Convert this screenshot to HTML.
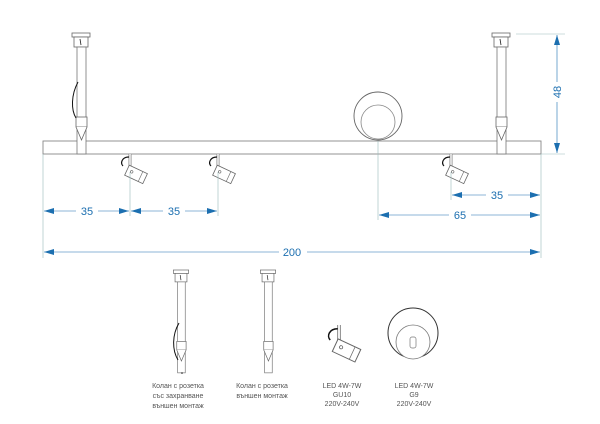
<!DOCTYPE html>
<html><head><meta charset="utf-8"><style>
html,body{margin:0;padding:0;background:#fff;width:600px;height:424px;overflow:hidden}
svg{display:block}
.d{fill:#1c6fb0;font-family:"Liberation Sans",sans-serif;font-size:11px;text-anchor:middle}
.t{fill:#555;font-family:"Liberation Sans","DejaVu Sans",sans-serif;font-size:7px;text-anchor:middle}
</style></head><body>
<svg width="600" height="424" viewBox="0 0 600 424">
<defs>
<marker id="a" viewBox="0 0 10 6" refX="10" refY="3" markerWidth="10" markerHeight="6" orient="auto-start-reverse" markerUnits="userSpaceOnUse"><path d="M0,0L10,3L0,6z" fill="#1c6fb0"/></marker>
<g id="col">
<rect x="-9" y="0" width="18" height="4" fill="#fff" stroke="#666" stroke-width=".8"/>
<rect x="-7" y="4" width="14" height="10" fill="#fff" stroke="#666" stroke-width=".8"/>
<path d="M-1,6 l1,6" stroke="#222" stroke-width=".8"/>
<rect x="-4" y="14" width="9" height="107" fill="#fff" stroke="#777" stroke-width=".8"/>
<rect x="-5" y="84" width="11" height="10" fill="#fff" stroke="#666" stroke-width=".8"/>
<path d="M-5,94 L0.5,107 L6,94" fill="#fff" stroke="#666" stroke-width=".8"/>
</g>
<g id="spot">
<line x1="0" y1="0" x2="0" y2="18" stroke="#888" stroke-width="3"/>
<line x1="0" y1="0" x2="0" y2="18" stroke="#fff" stroke-width="1.4"/>
<path d="M-1,3 C-8,3 -10,9 -7,12" fill="none" stroke="#111" stroke-width="1.2"/>
<g transform="translate(4,20) rotate(25)">
<rect x="-8" y="-6" width="20" height="11" fill="#fff" stroke="#666" stroke-width=".8"/>
<line x1="7" y1="-6" x2="7" y2="5" stroke="#666" stroke-width=".6"/>
<circle cx="-3" cy="-1" r="1.3" fill="none" stroke="#555" stroke-width=".6"/>
</g>
</g>
</defs>

<!-- bar -->
<rect x="43" y="141" width="498" height="13" fill="#fff" stroke="#888" stroke-width=".9"/>
<!-- columns -->
<use href="#col" transform="translate(81,33)"/>
<path d="M78,82 C71,95 71,110 76,118" fill="none" stroke="#111" stroke-width="1"/>
<use href="#col" transform="translate(501,33)"/>
<!-- spots -->
<use href="#spot" transform="translate(130,154)"/>
<use href="#spot" transform="translate(218,154)"/>
<use href="#spot" transform="translate(451,154)"/>
<!-- globe -->
<circle cx="378" cy="116" r="24" fill="#fff" stroke="#666" stroke-width=".9"/>
<circle cx="378" cy="122" r="17" fill="#fff" stroke="#888" stroke-width=".8"/>

<!-- extension lines -->
<g stroke="#9bb" stroke-width=".6">
<line x1="43" y1="154" x2="43" y2="258"/>
<line x1="541" y1="154" x2="541" y2="258"/>
<line x1="130" y1="172" x2="130" y2="216"/>
<line x1="218" y1="172" x2="218" y2="216"/>
<line x1="451" y1="172" x2="451" y2="200"/>
<line x1="378" y1="141" x2="378" y2="220"/>
<line x1="516" y1="34" x2="565" y2="34"/>
<line x1="541" y1="154" x2="565" y2="154"/>
</g>
<g stroke="#1c6fb0" stroke-width=".6" fill="none">
<line x1="44" y1="211" x2="129" y2="211" marker-start="url(#a)" marker-end="url(#a)"/>
<line x1="131" y1="211" x2="217" y2="211" marker-start="url(#a)" marker-end="url(#a)"/>
<line x1="452" y1="195" x2="540" y2="195" marker-start="url(#a)" marker-end="url(#a)"/>
<line x1="379" y1="215" x2="540" y2="215" marker-start="url(#a)" marker-end="url(#a)"/>
<line x1="44" y1="252" x2="540" y2="252" marker-start="url(#a)" marker-end="url(#a)"/>
<line x1="557" y1="35" x2="557" y2="153" marker-start="url(#a)" marker-end="url(#a)"/>
</g>
<g>
<rect x="76" y="204" width="22" height="14" fill="#fff"/><text class="d" x="87" y="215">35</text>
<rect x="163" y="204" width="22" height="14" fill="#fff"/><text class="d" x="174" y="215">35</text>
<rect x="486" y="188" width="22" height="14" fill="#fff"/><text class="d" x="497" y="199">35</text>
<rect x="449" y="208" width="22" height="14" fill="#fff"/><text class="d" x="460" y="219">65</text>
<rect x="279" y="245" width="28" height="14" fill="#fff"/><text class="d" x="292" y="256">200</text>
<rect x="550" y="82" width="14" height="20" fill="#fff"/><text class="d" transform="translate(561,92) rotate(-90)">48</text>
</g>

<!-- legend -->
<use href="#col" transform="translate(181,270) scale(0.85)"/>
<path d="M179,323 C172,335 172,350 178,360" fill="none" stroke="#111" stroke-width="1"/>
<circle cx="182" cy="373" r=".8" fill="#111"/>
<use href="#col" transform="translate(268,270) scale(0.85)"/>
<use href="#spot" transform="translate(339,325) scale(1.25)"/>
<circle cx="413" cy="333" r="25" fill="#fff" stroke="#333" stroke-width="1"/>
<circle cx="413" cy="342" r="17" fill="#fff" stroke="#777" stroke-width=".8"/>
<rect x="410" y="337" width="6" height="11" rx="2" fill="#fff" stroke="#777" stroke-width=".7"/>
<text class="t" x="178" y="388">Колан с розетка</text>
<text class="t" x="178" y="398">със захранване</text>
<text class="t" x="178" y="408">външен монтаж</text>
<text class="t" x="262" y="388">Колан с розетка</text>
<text class="t" x="262" y="398">външен монтаж</text>
<text class="t" x="342" y="388">LED 4W-7W</text>
<text class="t" x="342" y="397">GU10</text>
<text class="t" x="342" y="406">220V-240V</text>
<text class="t" x="414" y="388">LED 4W-7W</text>
<text class="t" x="414" y="397">G9</text>
<text class="t" x="414" y="406">220V-240V</text>
</svg>
</body></html>
